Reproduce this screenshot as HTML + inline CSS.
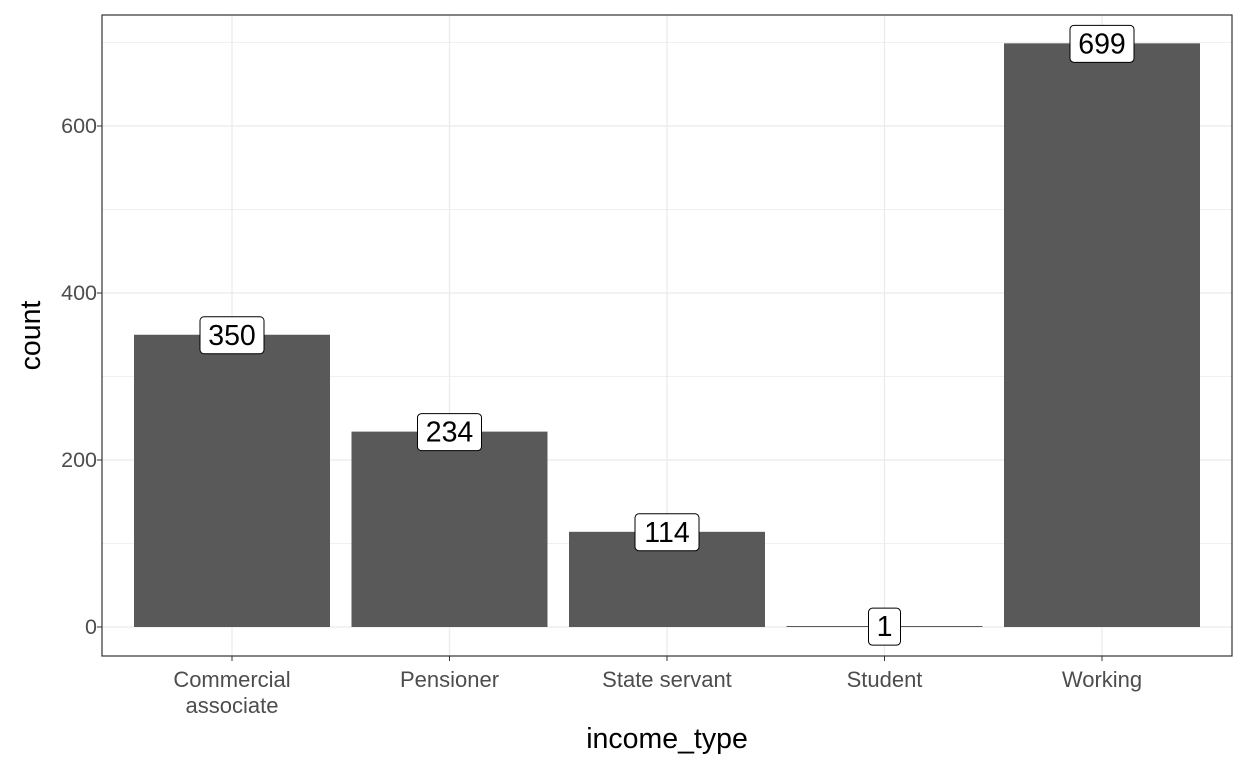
<!DOCTYPE html>
<html><head><meta charset="utf-8"><style>
body{margin:0;background:#fff;font-family:"Liberation Sans",Arial,sans-serif}
svg text{font-family:"Liberation Sans",Arial,sans-serif}
</style></head><body>
<svg id="chart" width="1248" height="768"></svg>
<script>
const categories=["Commercial associate","Pensioner","State servant","Student","Working"];
const catLabels=[["Commercial","associate"],["Pensioner"],["State servant"],["Student"],["Working"]];
const counts=[350,234,114,1,699];
const yTicks=[0,200,400,600];
const yMinor=[100,300,500,700];
const NS="http://www.w3.org/2000/svg";
const svg=document.getElementById('chart');
const L=102,R=1232,T=15,B=656;
const y0=627,yPer=(627-126)/600;
function y(v){return y0-v*yPer;}
const step=217.5,x0=232;
function x(i){return x0+i*step;}
const bw=196;
function mk(tag,attrs,parent){const e=document.createElementNS(NS,tag);for(const k in attrs)e.setAttribute(k,attrs[k]);(parent||svg).appendChild(e);return e;}
const bg=mk('rect',{x:L,y:T,width:R-L,height:B-T,fill:'#fff'});


yMinor.forEach(v=>{const g=mk('line',{x1:L,x2:R,y1:y(v),y2:y(v),stroke:'#f0f0f0','stroke-width':1});

});
yTicks.forEach(v=>{const g=mk('line',{x1:L,x2:R,y1:y(v),y2:y(v),stroke:'#ebebeb','stroke-width':1.3});


mk('line',{x1:L-5,x2:L,y1:y(v),y2:y(v),stroke:'#333','stroke-width':1});
const t=mk('text',{x:L-5,y:y(v)+7,'text-anchor':'end','font-size':21.5,fill:'#4d4d4d'});t.textContent=v;

});
categories.forEach((c,i)=>{const g=mk('line',{x1:x(i),x2:x(i),y1:T,y2:B,stroke:'#ebebeb','stroke-width':1.3});

});
categories.forEach((c,i)=>{
const h=Math.max(counts[i]*yPer,1);
const b=mk('rect',{x:x(i)-bw/2,y:y0-h,width:bw,height:h,fill:'#595959'});


mk('line',{x1:x(i),x2:x(i),y1:B,y2:B+5,stroke:'#333','stroke-width':1});
const t=mk('text',{x:x(i),y:B+31,'text-anchor':'middle','font-size':22,fill:'#4d4d4d'});
catLabels[i].forEach((ln,j)=>{const s=mk('tspan',{x:x(i),dy:j?26:0},t);s.textContent=ln;});


});
categories.forEach((c,i)=>{
const s=String(counts[i]);const w=s.length*16+16;const cy=y(counts[i]);
const g=mk('g',{});


mk('rect',{x:x(i)-w/2,y:cy-18,width:w,height:37,rx:4,fill:'#fff',stroke:'#000','stroke-width':1},g);
const t=mk('text',{x:x(i),y:cy+10,'text-anchor':'middle','font-size':28.5,fill:'#000'},g);t.textContent=s;
});
const fr=mk('rect',{x:L,y:T,width:R-L,height:B-T,fill:'none',stroke:'#333','stroke-width':1.2});


const xt=mk('text',{x:(L+R)/2,y:748,'text-anchor':'middle','font-size':28.5,fill:'#000'});xt.textContent='income_type';


const yt=mk('text',{x:40,y:(T+B)/2,'text-anchor':'middle','font-size':28.5,fill:'#000',transform:'rotate(-90 40 '+((T+B)/2)+')'});yt.textContent='count';


</script>
</body></html>
